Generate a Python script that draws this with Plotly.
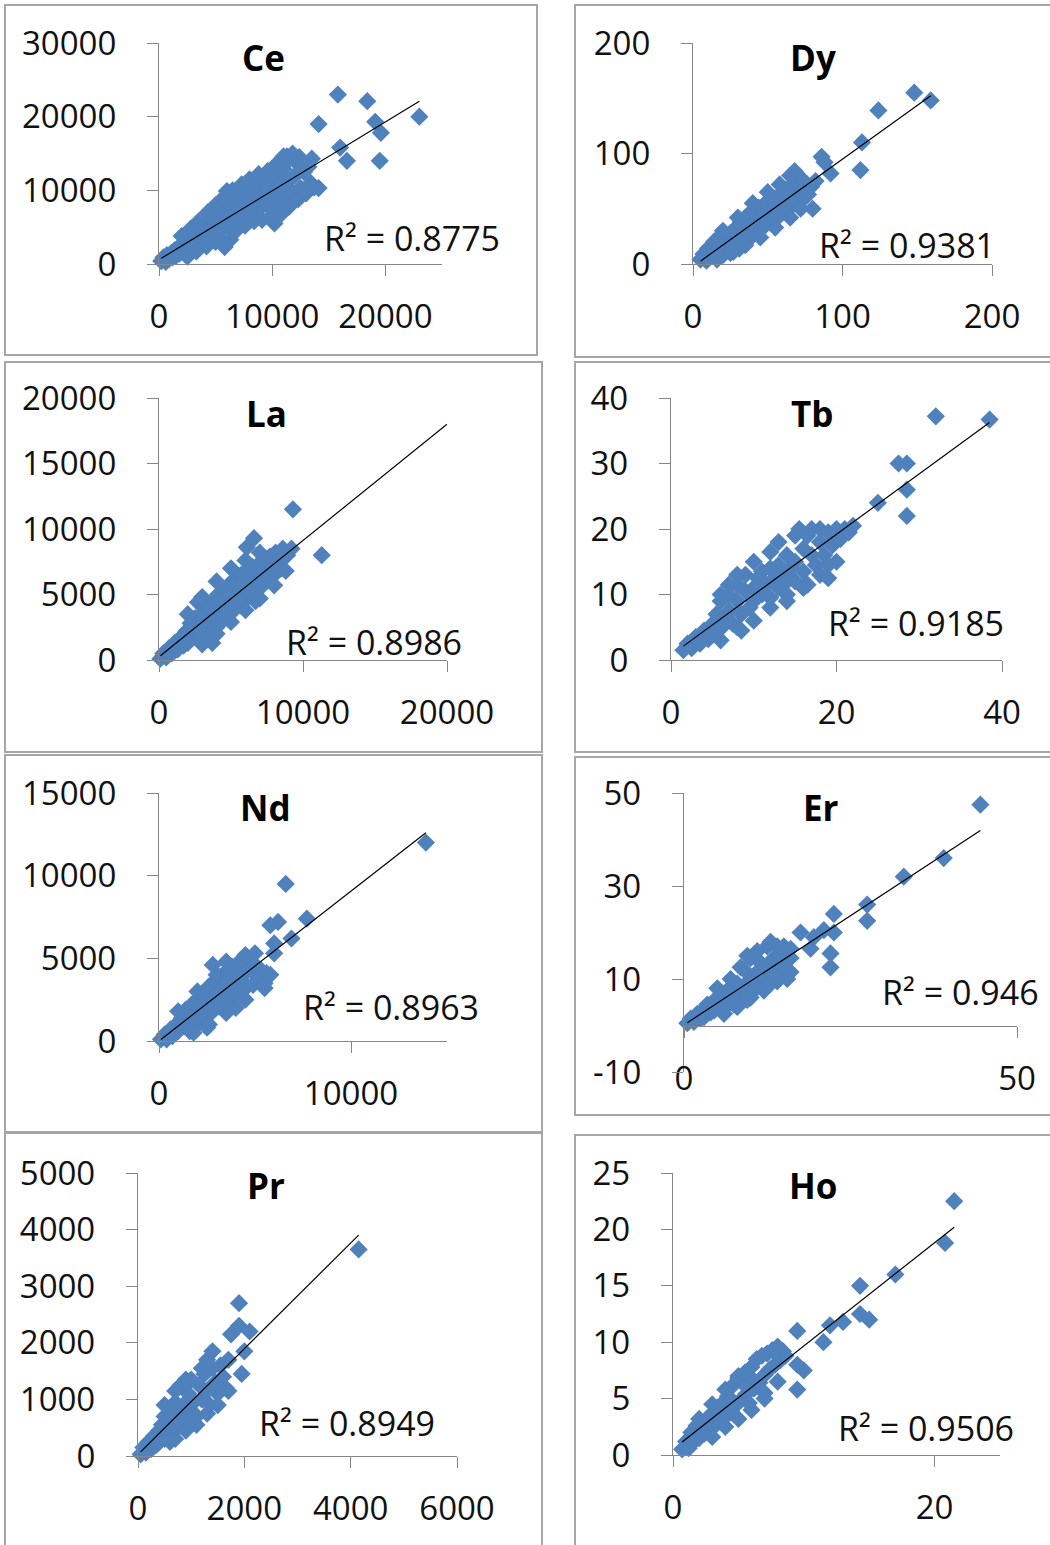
import numpy as np
import plotly.graph_objects as go

# ---------------- data ----------------
elements = ["Ce", "Dy", "La", "Tb", "Nd", "Er", "Pr", "Ho"]
r2_values = ["0.8775", "0.9381", "0.8986", "0.9185", "0.8963", "0.946", "0.8949", "0.9506"]

ce_x = [200, 400, 600, 700, 900, 1100, 1200, 1400, 1500, 1700, 1800, 2000, 2100, 2300, 2400, 2600, 2800, 2900,
        3100, 3200, 3400, 3500, 3700, 3800, 4000, 4100, 4300, 4400, 4600, 4700, 4900, 5000, 5200, 5300, 5500,
        5600, 5800, 5900, 6000, 6100, 6300, 6400, 6600, 6700, 6900, 7000, 7200, 7300, 7500, 7700, 7800, 8000,
        8200, 8300, 8500, 8700, 8800, 9000, 9200, 9400, 9500, 9700, 9900, 10000, 10300, 10500, 10600, 10800,
        11000, 11200, 11400, 11500, 11800, 12000, 12200, 12500, 12800, 13200, 13400, 10200, 5800, 6300, 10800,
        11300, 13500, 14100, 14100, 15800, 16000, 16600, 18400, 19100, 19600, 19500, 23000,
        2000, 2800, 3500, 4300, 5000, 5700, 6500, 7300, 8000, 8800, 9600, 10400, 11000, 11800, 12400,
        2500, 3300, 4200, 5000, 5500, 6800, 7600, 8400, 9100, 9800, 10600, 11500, 12300, 13000, 13700]
ce_y = [400, 900, 300, 1200, 700, 1500, 900, 1900, 1100, 2200, 1400, 2600, 1700, 3100, 2000, 2900, 3600, 2200,
        3300, 4200, 2700, 3800, 4800, 3000, 4300, 5500, 3500, 4900, 6200, 3900, 5300, 6800, 4300, 5900, 7200,
        4700, 6300, 7700, 9900, 5200, 6700, 8200, 5500, 7200, 8700, 6100, 7600, 9300, 6500, 8000, 9900, 6800,
        8600, 10500, 7200, 9000, 11000, 7700, 9400, 11300, 8100, 9900, 11800, 8400, 10200, 12200, 8700, 10700,
        12900, 9200, 11200, 14200, 9700, 12000, 13700, 10300, 12500, 13200, 11000, 5500, 2300, 3300, 6800,
        14600, 14300, 10300, 19000, 23000, 15800, 14000, 22100, 19300, 17800, 14000, 20000,
        3800, 4800, 5800, 7000, 8000, 9000, 10000, 10800, 11500, 12200, 12600, 13600, 14600, 15000, 14500,
        1000, 1700, 2400, 3000, 3200, 4500, 5200, 5800, 6000, 6300, 7200, 7800, 8800, 9600, 10400]

dy_x = [5, 7, 9, 10, 12, 14, 15, 16, 18, 19, 20, 22, 23, 25, 26, 27, 29, 30, 31, 32, 33, 34, 35, 36, 37, 38,
        39, 40, 41, 42, 43, 44, 45, 46, 47, 48, 49, 50, 51, 52, 53, 54, 55, 56, 57, 58, 59, 60, 61, 62, 63, 64,
        65, 66, 67, 68, 69, 70, 72, 73, 74, 76, 77, 79, 80, 82, 86, 88, 92, 113, 112, 124, 148, 159, 16, 21, 28,
        20, 30, 40, 50, 58, 65, 25, 35, 45, 55, 65, 72]
dy_y = [4, 9, 3, 14, 7, 20, 12, 4, 25, 15, 8, 22, 13, 28, 18, 11, 33, 22, 14, 38, 27, 18, 42, 31, 22, 46,
        35, 26, 48, 38, 29, 51, 41, 32, 53, 44, 36, 55, 47, 39, 58, 50, 42, 60, 52, 44, 64, 56, 47, 67, 58, 51,
        70, 62, 54, 84, 74, 64, 78, 68, 59, 72, 63, 70, 50, 75, 97, 92, 82, 110, 85, 139, 155, 148, 22, 28, 30,
        30, 42, 55, 65, 72, 80, 10, 17, 24, 33, 42, 50]

la_x = [100, 300, 500, 700, 900, 1100, 1300, 1500, 1700, 1900, 2000, 2200, 2300, 2500, 2600, 2700, 2800, 2900,
        3100, 3200, 3400, 3500, 3600, 3800, 3900, 4000, 4100, 4200, 4400, 4500, 4600, 4800, 4900, 5000, 5200,
        5300, 5400, 5600, 5700, 5800, 6000, 6100, 6200, 6400, 6500, 6600, 6800, 6900, 7000, 7200, 7300, 7400,
        7600, 7700, 7800, 8000, 8100, 8300, 8500, 8600, 8900, 9200, 6100, 6600, 9300, 11300, 3700, 5000, 6700,
        2000, 3000, 4000, 5000, 6000, 7000, 3000, 4000, 5000, 6000, 7000, 8000, 8800]
la_y = [100, 500, 200, 900, 500, 1300, 800, 1700, 1100, 2200, 1300, 2800, 1700, 3200, 2100, 4400, 2900, 1900,
        3600, 2500, 4100, 3000, 1800, 4500, 3300, 2500, 5000, 3800, 3000, 5400, 4200, 3400, 5800, 4600, 3800,
        6200, 5000, 4200, 6500, 5400, 4600, 6800, 5800, 4900, 7100, 6100, 5300, 7300, 6400, 5700, 7600, 6800,
        6100, 7900, 7200, 6500, 8200, 7500, 7000, 8500, 8000, 8500, 8600, 9300, 11500, 8000, 1300, 4200, 4500,
        3500, 4800, 6000, 7000, 7600, 8200, 1200, 2000, 2900, 3800, 4700, 5700, 6800]
la_trend_to = 20000

tb_x = [1.5, 2, 2.5, 3, 3.5, 4, 4.5, 5, 5, 5.5, 6, 6, 6.5, 7, 7, 7.5, 8, 8, 8.5, 9, 9, 9.5, 10, 10, 10.5, 11,
        11, 11.5, 12, 12, 12.5, 13, 13, 13.5, 14, 14, 14.5, 15, 15, 15, 15.5, 16, 16, 16.5, 16.5, 17, 17, 17.5,
        18, 18, 18.5, 19, 19, 19.5, 20, 20.5, 21, 21.5, 22, 19, 20, 14, 8.5, 25, 27.5, 28.5, 28.5, 28.5, 32, 38.5,
        6, 8, 10, 12, 13, 7, 6, 8, 10, 12, 14, 16, 18]
tb_y = [1.5, 2.5, 1.8, 3.5, 2.5, 4.5, 3.2, 5.5, 3.8, 7, 4.8, 9, 6, 10, 7.5, 5.5, 9, 11.5, 7, 10.5, 13, 8, 11, 9,
        12.5, 10, 13.5, 11.5, 9.5, 14, 12.5, 11, 14.5, 13, 12, 16, 14, 19, 15, 12, 20, 17, 13.5, 19, 11.5, 16, 20,
        14.5, 18, 20, 16, 19.5, 14.5, 17.5, 20, 18.5, 20, 19.5, 20.5, 12.5, 15, 9, 4.5, 24, 30, 30, 26, 22, 37.2, 36.7,
        10, 13, 15, 16.5, 18, 11.5, 3, 5, 6, 8, 10, 11, 13]

nd_x = [100, 300, 400, 600, 700, 900, 1000, 1200, 1300, 1400, 1500, 1600, 1700, 1800, 1900, 2000, 2100, 2200,
        2300, 2400, 2500, 2600, 2700, 2800, 2800, 2900, 3000, 3100, 3200, 3300, 3400, 3500, 3600, 3700, 3800,
        3900, 4000, 4100, 4200, 4300, 4400, 4500, 4600, 4700, 4800, 4900, 5000, 5200, 5300, 5500, 5600, 5800,
        6000, 6000, 5800, 6200, 6900, 7700, 6600, 13900, 1800, 2600,
        1000, 2000, 3000, 3500, 4500, 5000, 2500, 3500, 4500, 5500, 4000]
nd_y = [100, 400, 100, 700, 300, 1000, 600, 1400, 900, 1900, 1200, 600, 2200, 1500, 900, 2500, 1800, 1200,
        2900, 2100, 1500, 3300, 2400, 1800, 4600, 3600, 2700, 2100, 3900, 3000, 2400, 4200, 3300, 2600, 4500,
        3600, 2800, 4700, 3900, 3000, 4800, 4100, 3300, 4900, 4300, 3400, 4600, 3800, 4300, 3500, 4100, 4000,
        5300, 5900, 7000, 7200, 6200, 7400, 9500, 12000, 500, 1000,
        1800, 3000, 4000, 4800, 5200, 5300, 800, 1700, 2500, 3200, 2000]

er_x = [0.5, 1, 1.5, 2, 2.5, 3, 3, 3.5, 4, 4.5, 4.5, 5, 5.5, 6, 6, 6.5, 7, 7.5, 7.5, 8, 8.5, 9, 9, 9.5, 10, 10,
        10.5, 11, 11.5, 11.5, 12, 12.5, 12.5, 13, 13.5, 14, 14, 14.5, 15, 15, 15.5, 16, 16, 17.5, 19, 19.5, 21,
        22.5, 22.5, 22, 22, 27.5, 27.5, 33, 39, 44.5,
        5, 7, 8.5, 11, 13, 9.5, 6, 8, 10, 12, 14, 16]
er_y = [0.5, 1.5, 0.8, 2.5, 1.5, 3.5, 1.8, 4.5, 2.8, 5, 3.2, 6, 4, 6.5, 3.8, 7.5, 5, 8, 4.5, 9, 6, 12, 8, 5.5,
        14.5, 10, 7.5, 11.5, 13.5, 8.5, 10.5, 17, 12.5, 9, 14.5, 11.5, 17, 15.5, 12.5, 17, 10, 14.5, 16.5, 20,
        16.5, 19, 20.5, 24, 20, 15.5, 12.5, 26, 22.5, 32, 36, 47.5,
        8, 10, 12.5, 16, 18, 15, 2.5, 4, 6, 7.5, 9.5, 11.5]

pr_x = [50, 100, 150, 200, 250, 300, 350, 400, 400, 450, 500, 500, 550, 600, 600, 650, 700, 700, 750, 800, 800,
        850, 900, 950, 1000, 1000, 1050, 1100, 1150, 1200, 1250, 1300, 1350, 1400, 1400, 1450, 1500, 1550, 1600,
        1650, 1700, 1750, 1900, 1900, 2100, 2000, 1950, 600, 4150,
        500, 700, 900, 1200, 1300, 700, 900, 1100, 1300, 1500, 1700]
pr_y = [30, 150, 60, 250, 120, 350, 200, 450, 250, 550, 300, 700, 450, 800, 350, 550, 950, 450, 700, 1250, 550,
        900, 650, 1100, 800, 1350, 950, 700, 1250, 1000, 1450, 1150, 900, 1550, 1850, 1300, 1100, 1600, 1400,
        1200, 1700, 2150, 2300, 2700, 2200, 1850, 1450, 250, 3650,
        900, 1150, 1350, 1550, 1700, 300, 450, 550, 750, 900, 1150]

ho_x = [0.7, 1, 1.2, 1.4, 1.6, 1.8, 2, 2.2, 2.4, 2.6, 2.8, 3, 3.2, 3.4, 3.6, 3.8, 4, 4.2, 4.4, 4.6, 4.8, 5, 5.2,
        5.4, 5.6, 5.8, 6, 6.2, 6.4, 6.6, 6.8, 7, 7, 7.2, 7.4, 7.6, 7.8, 8, 8.2, 8.4, 8.6, 9.5, 9.5, 10, 9.5, 11.5,
        12, 13, 14.3, 14.3, 15, 17, 20.8, 21.5,
        2, 3, 4, 5, 5.5, 6, 3, 4, 5, 6, 7, 8]
ho_y = [0.5, 1.2, 0.6, 2, 1.2, 2.6, 1.5, 2.8, 1.9, 3.2, 2.2, 3.7, 2.6, 4.2, 3, 4.6, 3.4, 5.2, 3.8, 6.2, 4.4,
        6.8, 4.9, 6.3, 5.4, 4.6, 6.8, 5.9, 8.5, 6.4, 8.8, 7.1, 5, 9, 7.6, 9.3, 8, 9.6, 8.4, 9.2, 8.8, 11, 8, 7.5,
        5.8, 10, 11.5, 11.8, 12.5, 15, 12, 16, 18.8, 22.5,
        3.2, 4.5, 5.8, 7, 7.3, 7.8, 1.6, 2.5, 3.2, 4, 5.5, 6.5]

series_x = [ce_x, dy_x, la_x, tb_x, nd_x, er_x, pr_x, ho_x]
series_y = [ce_y, dy_y, la_y, tb_y, nd_y, er_y, pr_y, ho_y]
x_ranges = [[0, 25000], [0, 200], [0, 20000], [0, 40], [0, 15000], [0, 50], [0, 6000], [0, 25]]
y_ranges = [[0, 30000], [0, 200], [0, 20000], [0, 40], [0, 15000], [-10, 50], [0, 5000], [0, 25]]
x_dticks = [10000, 100, 10000, 20, 10000, 50, 2000, 20]
y_dticks = [10000, 100, 5000, 10, 5000, 20, 1000, 5]

# ---------------- layout geometry (pixels) ----------------
W, H = 1050, 1545
plot_px = [  # x_left, x_right, y_top, y_bottom
    (159, 442, 43, 264), (693, 992, 43, 264),
    (159, 447, 398, 660), (671, 1002, 398, 660),
    (159, 447, 793, 1041), (684, 1017, 793, 1072),
    (138, 457, 1173, 1456), (673, 1000, 1173, 1455),
]
title_px = [(263, 57), (813, 57), (266, 413), (812, 413), (265, 807), (821, 807), (266, 1185), (813, 1185)]
r2_px = [(322, 238), (817, 245), (284, 642), (826, 623), (301, 1007), (880, 992), (257, 1423), (836, 1428)]
box_px = [(5, 5, 537, 355), (575, 5, 1060, 357), (5, 362, 542, 752), (575, 362, 1060, 752),
          (5, 755, 542, 1132), (575, 757, 1060, 1115), (5, 1133, 542, 1560), (575, 1135, 1060, 1560)]
er_zero_px = 1026  # pixel row where the Er x-axis crosses y = 0


def px_x(v):
    return v / W


def px_y(v):
    return 1 - v / H


FONT = "Open Sans"
AXIS_GREY = "#868686"
BLUE = "#4F81BD"

fig = go.Figure()
layout = dict(
    width=W, height=H, margin=dict(l=0, r=0, t=0, b=0, autoexpand=False),
    paper_bgcolor="white", plot_bgcolor="rgba(0,0,0,0)",
    showlegend=False, shapes=[], annotations=[],
)

base_axis = dict(
    showgrid=False, zeroline=False, showline=True, linecolor=AXIS_GREY, linewidth=1.3,
    ticks="outside", ticklen=11, tickwidth=1.3, tickcolor=AXIS_GREY,
    tickfont=dict(family=FONT, size=33, color="#111111"), tickformat="d", fixedrange=True,
    automargin=False,
)

for i, name in enumerate(elements):
    n = i + 1
    sfx = "" if n == 1 else str(n)
    xl, xr, yt, yb = plot_px[i]
    xs = np.array(series_x[i], dtype=float)
    ys = np.array(series_y[i], dtype=float)

    xaxis = dict(base_axis, domain=[px_x(xl), px_x(xr)], range=x_ranges[i], dtick=x_dticks[i],
                 tick0=0, anchor=f"y{sfx}", ticklabelstandoff=12)
    yaxis = dict(base_axis, domain=[px_y(yb), px_y(yt)], range=y_ranges[i], dtick=y_dticks[i],
                 tick0=y_ranges[i][0], anchor=f"x{sfx}", ticklabelstandoff=24)

    line_axis = f"x{sfx}"
    if name == "Er":
        # labels stay at the bottom, the axis line itself sits at y = 0
        xaxis.update(showline=False, ticks="", ticklabelstandoff=-16)
        yaxis.update(tickvals=[-10, 10, 30, 50], ticktext=["-10", "10", "30", "50"])
        layout["xaxis9"] = dict(base_axis, overlaying=f"x{sfx}", anchor="free",
                                position=px_y(er_zero_px), range=x_ranges[i], dtick=x_dticks[i],
                                tick0=0, showticklabels=False)
        line_axis = "x9"

    layout[f"xaxis{sfx}"] = xaxis
    layout[f"yaxis{sfx}"] = yaxis

    fig.add_trace(go.Scatter(
        x=xs, y=ys, mode="markers", xaxis=f"x{sfx}", yaxis=f"y{sfx}",
        marker=dict(symbol="diamond", size=14, color=BLUE, line=dict(width=0)),
        cliponaxis=False, hoverinfo="x+y",
    ))

    # linear least-squares trendline
    slope, icpt = np.polyfit(xs, ys, 1)
    x_end = la_trend_to if name == "La" else xs.max()
    tx = np.array([xs.min(), x_end])
    fig.add_trace(go.Scatter(
        x=tx, y=slope * tx + icpt, mode="lines", xaxis=line_axis, yaxis=f"y{sfx}",
        line=dict(color="black", width=1.2), cliponaxis=False, hoverinfo="skip",
    ))

    tx_px, ty_px = title_px[i]
    layout["annotations"].append(dict(
        x=px_x(tx_px), y=px_y(ty_px), xref="paper", yref="paper", text=f"<b>{name}</b>",
        showarrow=False, xanchor="center", yanchor="middle",
        font=dict(family=FONT, size=35, color="#000000"),
    ))
    rx, ry = r2_px[i]
    layout["annotations"].append(dict(
        x=px_x(rx), y=px_y(ry), xref="paper", yref="paper", text=f"R² = {r2_values[i]}",
        showarrow=False, xanchor="left", yanchor="middle",
        font=dict(family=FONT, size=34, color="#111111"),
    ))
    bx0, by0, bx1, by1 = box_px[i]
    layout["shapes"].append(dict(
        type="rect", xref="paper", yref="paper", x0=px_x(bx0), x1=px_x(bx1), y0=px_y(by1), y1=px_y(by0),
        line=dict(color="#A6A6A6", width=2), fillcolor="rgba(0,0,0,0)", layer="below",
    ))

fig.update_layout(**layout)
fig.write_html("out.html")
